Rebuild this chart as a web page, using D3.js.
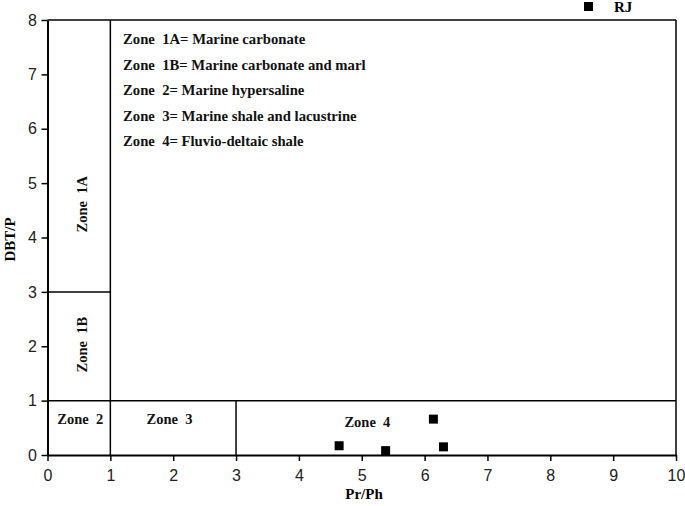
<!DOCTYPE html>
<html><head><meta charset="utf-8">
<script src="https://cdn.jsdelivr.net/npm/d3@7"></script>
<style>body{margin:0;background:#fff}svg{display:block}</style>
</head><body>
<script>
const prph = [4.64, 5.38, 6.14, 6.30];
const dbtp = [0.17, 0.08, 0.66, 0.15];
const seriesName = "RJ";
const xTicks = [0,1,2,3,4,5,6,7,8,9,10];
const yTicks = [0,1,2,3,4,5,6,7,8];
const zoneNotes = ["Zone  1A= Marine carbonate","Zone  1B= Marine carbonate and marl","Zone  2= Marine hypersaline","Zone  3= Marine shale and lacustrine","Zone  4= Fluvio-deltaic shale"];
// zone boundary segments [x1,y1,x2,y2] in data units
const boundaries = [[1,0,1,8],[0,3,1,3],[0,1,10,1],[3,0,3,1]];
const zoneLabels = [
  {t:"Zone  2", x:0.52, y:0.67, rot:false},
  {t:"Zone  3", x:1.94, y:0.67, rot:false},
  {t:"Zone  4", x:5.09, y:0.61, rot:false},
  {t:"Zone  1A", x:0.54, y:4.61, rot:true},
  {t:"Zone  1B", x:0.54, y:2.03, rot:true}
];

const W=685,H=506;
const svg=d3.select("body").append("svg").attr("width",W).attr("height",H);
const x=d3.scaleLinear().domain([0,10]).range([47.5,676]);
const y=d3.scaleLinear().domain([0,8]).range([455,20]);
const serif="'Liberation Serif','Times New Roman',serif";
const sans="'Liberation Sans',Arial,sans-serif";

// frame top & right
svg.append("line").attr("x1",x(0)).attr("x2",x(10)).attr("y1",y(8)).attr("y2",y(8)).attr("stroke","#000").attr("stroke-width",1.5);
svg.append("line").attr("x1",x(10)).attr("x2",x(10)).attr("y1",y(0)).attr("y2",y(8)).attr("stroke","#000").attr("stroke-width",1.5);

// boundaries
svg.append("g").selectAll("line").data(boundaries).join("line")
  .attr("x1",d=>x(d[0])).attr("y1",d=>y(d[1])).attr("x2",d=>x(d[2])).attr("y2",d=>y(d[3]))
  .attr("stroke","#000").attr("stroke-width",1.5);

// axes
const xa=svg.append("g").attr("transform",`translate(0,${y(0)})`)
  .call(d3.axisBottom(x).tickValues(xTicks).tickFormat(d3.format("d")).tickSize(6).tickSizeOuter(0));
const ya=svg.append("g").attr("transform",`translate(${x(0)},0)`)
  .call(d3.axisLeft(y).tickValues(yTicks).tickFormat(d3.format("d")).tickSize(6).tickSizeOuter(0));
[xa,ya].forEach(g=>{
  g.select(".domain").attr("stroke","#000").attr("stroke-width",2);
  g.selectAll(".tick line").attr("stroke","#000").attr("stroke-width",1.5);
  g.selectAll("text").attr("font-family",sans).attr("font-size",16).attr("fill","#222");
});
xa.selectAll("text").attr("dy","1.05em");
ya.selectAll("text").attr("dx","-0.1em");

// axis titles
svg.append("text").attr("x",364).attr("y",499).attr("text-anchor","middle")
  .attr("font-family",serif).attr("font-weight","bold").attr("font-size",15).text("Pr/Ph");
svg.append("text").attr("transform",`translate(15,${y(4)+2}) rotate(-90)`).attr("text-anchor","middle")
  .attr("font-family",serif).attr("font-weight","bold").attr("font-size",15).text("DBT/P");

// zone notes
svg.append("g").selectAll("text").data(zoneNotes).join("text")
  .attr("x",123).attr("y",(d,i)=>44+i*25.6)
  .attr("font-family",serif).attr("font-weight","bold").attr("font-size",14.7).attr("fill","#111")
  .style("white-space","pre").text(d=>d);

// zone labels
svg.append("g").selectAll("text").data(zoneLabels).join("text")
  .attr("transform",d=>`translate(${x(d.x)},${y(d.y)})`+(d.rot?" rotate(-90)":""))
  .attr("text-anchor","middle").attr("dy","0.35em")
  .attr("font-family",serif).attr("font-weight","bold").attr("font-size",14.5).attr("fill","#111")
  .style("white-space","pre").text(d=>d.t);

// points
const s=9;
svg.append("g").selectAll("rect").data(prph.map((v,i)=>[v,dbtp[i]])).join("rect")
  .attr("x",d=>x(d[0])-s/2).attr("y",d=>y(d[1])-s/2).attr("width",s).attr("height",s).attr("fill","#000");

// legend
svg.append("rect").attr("x",584).attr("y",2).attr("width",9).attr("height",9).attr("fill","#000");
svg.append("text").attr("x",614).attr("y",12).attr("font-family",serif).attr("font-weight","bold").attr("font-size",15).text(seriesName);
</script>
</body></html>
